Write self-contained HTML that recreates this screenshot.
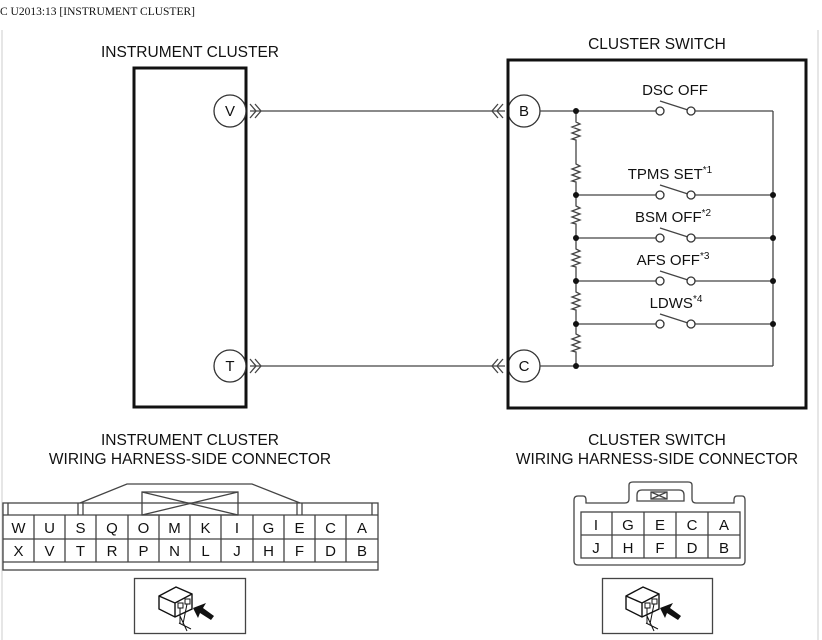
<!DOCTYPE html>
<html><head><meta charset="utf-8"><style>
html,body{margin:0;padding:0;background:#fff;}
svg{display:block;}
text{font-family:"Liberation Sans",sans-serif;fill:#111;}
</style></head><body>
<svg width="822" height="640" viewBox="0 0 822 640" xmlns="http://www.w3.org/2000/svg">
<defs>
<g id="icon">
  <path d="M-24,-8 L-7,-17 L9,-10 L9,5 L-8,13 L-24,5 Z" fill="#fff" stroke="#111" stroke-width="1.4"/>
  <path d="M-24,-8 L-8,-1 L9,-10 M-8,-1 L-8,13" fill="none" stroke="#111" stroke-width="1.4"/>
  <rect x="-5" y="-1" width="5" height="5" fill="none" stroke="#111" stroke-width="1"/>
  <rect x="2" y="-5" width="5" height="5" fill="none" stroke="#111" stroke-width="1"/>
  <path d="M-3,4 L-3,20 M4,0 L0,20 M-4,19 L8,25 M-3,12 L4,27" fill="none" stroke="#111" stroke-width="1"/>
  <path d="M10,4 L23,-1 L20,4 L31,12 L28,16 L17,9 L15,14 Z" fill="#111"/>
</g>
</defs>
<text x="0" y="15" style="font-family:'Liberation Serif',serif" font-size="11.5">C U2013:13 [INSTRUMENT CLUSTER]</text>
<line x1="2" y1="30" x2="2" y2="640" stroke="#ccc" stroke-width="1"/>
<line x1="818" y1="30" x2="818" y2="640" stroke="#ccc" stroke-width="1"/>

<text x="190" y="57" font-size="15.5" text-anchor="middle">INSTRUMENT CLUSTER</text>
<rect x="134" y="68" width="112" height="339" fill="none" stroke="#111" stroke-width="3"/>
<g fill="#fff" stroke="#333" stroke-width="1.3">
<circle cx="230" cy="111" r="16"/><circle cx="230" cy="366" r="16"/>
<circle cx="524" cy="111" r="16"/><circle cx="524" cy="366" r="16"/>
</g>
<g font-size="15" text-anchor="middle">
<text x="230" y="116">V</text><text x="230" y="371">T</text>
<text x="524" y="116">B</text><text x="524" y="371">C</text>
</g>
<g fill="none" stroke="#444" stroke-width="1.3">
<path d="M250,104 L256,111 L250,118 M255,104 L261,111 L255,118"/>
<path d="M250,359 L256,366 L250,373 M255,359 L261,366 L255,373"/>
<path d="M503,104 L497,111 L503,118 M498,104 L492,111 L498,118"/>
<path d="M503,359 L497,366 L503,373 M498,359 L492,366 L498,373"/>
<line x1="250" y1="111" x2="505" y2="111"/>
<line x1="250" y1="366" x2="505" y2="366"/>
</g>

<text x="657" y="49" font-size="15.5" text-anchor="middle">CLUSTER SWITCH</text>
<rect x="508" y="60" width="298" height="348" fill="none" stroke="#111" stroke-width="3"/>
<g fill="none" stroke="#444" stroke-width="1.3">
<line x1="540" y1="111" x2="656" y2="111"/><line x1="695" y1="111" x2="773" y2="111"/>
<line x1="540" y1="366" x2="773" y2="366"/>
<line x1="773" y1="111" x2="773" y2="366"/>
<path d="M576,111 V122 l4,2 l-8,3 l8,3 l-8,3 l8,3 l-8,3 l4,1 V164 l4,2 l-8,3 l8,3 l-8,3 l8,3 l-8,3 l4,1 V206 l4,2 l-8,3 l8,3 l-8,3 l8,3 l-8,3 l4,1 V249 l4,2 l-8,3 l8,3 l-8,3 l8,3 l-8,3 l4,1 V292 l4,2 l-8,3 l8,3 l-8,3 l8,3 l-8,3 l4,1 V334 l4,2 l-8,3 l8,3 l-8,3 l8,3 l-8,3 l4,1 V366"/>
<line x1="576" y1="195" x2="656" y2="195"/><line x1="695" y1="195" x2="773" y2="195"/>
<line x1="576" y1="238" x2="656" y2="238"/><line x1="695" y1="238" x2="773" y2="238"/>
<line x1="576" y1="281" x2="656" y2="281"/><line x1="695" y1="281" x2="773" y2="281"/>
<line x1="576" y1="324" x2="656" y2="324"/><line x1="695" y1="324" x2="773" y2="324"/>
<line x1="660" y1="101" x2="688" y2="110"/>
<line x1="660" y1="185" x2="688" y2="194"/>
<line x1="660" y1="228" x2="688" y2="237"/>
<line x1="660" y1="271" x2="688" y2="280"/>
<line x1="660" y1="314" x2="688" y2="323"/>
</g>
<g fill="#fff" stroke="#333" stroke-width="1.3">
<circle cx="660" cy="111" r="4"/><circle cx="691" cy="111" r="4"/>
<circle cx="660" cy="195" r="4"/><circle cx="691" cy="195" r="4"/>
<circle cx="660" cy="238" r="4"/><circle cx="691" cy="238" r="4"/>
<circle cx="660" cy="281" r="4"/><circle cx="691" cy="281" r="4"/>
<circle cx="660" cy="324" r="4"/><circle cx="691" cy="324" r="4"/>
</g>
<g fill="#111">
<circle cx="576" cy="111" r="3"/><circle cx="576" cy="195" r="3"/><circle cx="576" cy="238" r="3"/>
<circle cx="576" cy="281" r="3"/><circle cx="576" cy="324" r="3"/><circle cx="576" cy="366" r="3"/>
<circle cx="773" cy="195" r="3"/><circle cx="773" cy="238" r="3"/><circle cx="773" cy="281" r="3"/><circle cx="773" cy="324" r="3"/>
</g>
<g font-size="15" text-anchor="middle">
<text x="675" y="95">DSC OFF</text>
<text x="670" y="179">TPMS SET<tspan font-size="10" dy="-6">*1</tspan></text>
<text x="673" y="222">BSM OFF<tspan font-size="10" dy="-6">*2</tspan></text>
<text x="673" y="265">AFS OFF<tspan font-size="10" dy="-6">*3</tspan></text>
<text x="676" y="308">LDWS<tspan font-size="10" dy="-6">*4</tspan></text>
</g>

<g font-size="15.5" text-anchor="middle">
<text x="190" y="445">INSTRUMENT CLUSTER</text>
<text x="190" y="464">WIRING HARNESS-SIDE CONNECTOR</text>
<text x="657" y="445">CLUSTER SWITCH</text>
<text x="657" y="464">WIRING HARNESS-SIDE CONNECTOR</text>
</g>
<g fill="none" stroke="#444" stroke-width="1.3">
<rect x="3" y="503" width="375" height="67"/>
<line x1="3" y1="515" x2="378" y2="515"/>
<line x1="3" y1="539" x2="378" y2="539"/>
<line x1="3" y1="562" x2="378" y2="562"/>
<path d="M8,503 V515 M372,503 V515 M78,503 V515 M83,503 V515 M297,503 V515 M302,503 V515"/>
<path d="M80,503 L127,484 L252,484 L300,503"/>
<rect x="142" y="492" width="96" height="23"/>
<path d="M142,515 L238,492 M142,492 L238,515"/>
<path d="M34,515 V562 M65,515 V562 M96,515 V562 M128,515 V562 M159,515 V562 M190,515 V562 M221,515 V562 M253,515 V562 M284,515 V562 M315,515 V562 M346,515 V562"/>
<rect x="134.5" y="578.5" width="111" height="55"/>
</g>
<g font-size="15" text-anchor="middle">
<text x="18.5" y="533">W</text><text x="49.5" y="533">U</text><text x="80.5" y="533">S</text><text x="112" y="533">Q</text><text x="143.5" y="533">O</text><text x="174.5" y="533">M</text><text x="205.5" y="533">K</text><text x="237" y="533">I</text><text x="268.5" y="533">G</text><text x="299.5" y="533">E</text><text x="330.5" y="533">C</text><text x="362" y="533">A</text>
<text x="18.5" y="556">X</text><text x="49.5" y="556">V</text><text x="80.5" y="556">T</text><text x="112" y="556">R</text><text x="143.5" y="556">P</text><text x="174.5" y="556">N</text><text x="205.5" y="556">L</text><text x="237" y="556">J</text><text x="268.5" y="556">H</text><text x="299.5" y="556">F</text><text x="330.5" y="556">D</text><text x="362" y="556">B</text>
</g>
<use href="#icon" x="183" y="604"/>

<g fill="none" stroke="#444" stroke-width="1.3">
<path d="M578,496 H583 Q586,496 586,500 V503 H625 Q629,503 629,499 V485 Q629,482 633,482 H688 Q692,482 692,485 V499 Q692,503 696,503 H734 V500 Q734,496 737,496 H742 Q745,496 745,500 V561 Q745,565 741,565 H578 Q574,565 574,561 V500 Q574,496 578,496 Z"/>
<path d="M637,501 V495 Q637,490 642,490 H679 Q684,490 684,495 V501 Z"/>
<rect x="651" y="492" width="16" height="7"/>
<path d="M651,492 L667,499 M651,499 L667,492"/>
<rect x="581" y="512" width="159" height="46"/>
<line x1="581" y1="535" x2="740" y2="535"/>
<path d="M612,512 V558 M644,512 V558 M676,512 V558 M708,512 V558"/>
<rect x="602.5" y="578.5" width="110" height="55"/>
</g>
<g font-size="15" text-anchor="middle">
<text x="596" y="530">I</text><text x="628" y="530">G</text><text x="660" y="530">E</text><text x="692" y="530">C</text><text x="724" y="530">A</text>
<text x="596" y="553">J</text><text x="628" y="553">H</text><text x="660" y="553">F</text><text x="692" y="553">D</text><text x="724" y="553">B</text>
</g>
<use href="#icon" x="650" y="604"/>
</svg>
</body></html>
